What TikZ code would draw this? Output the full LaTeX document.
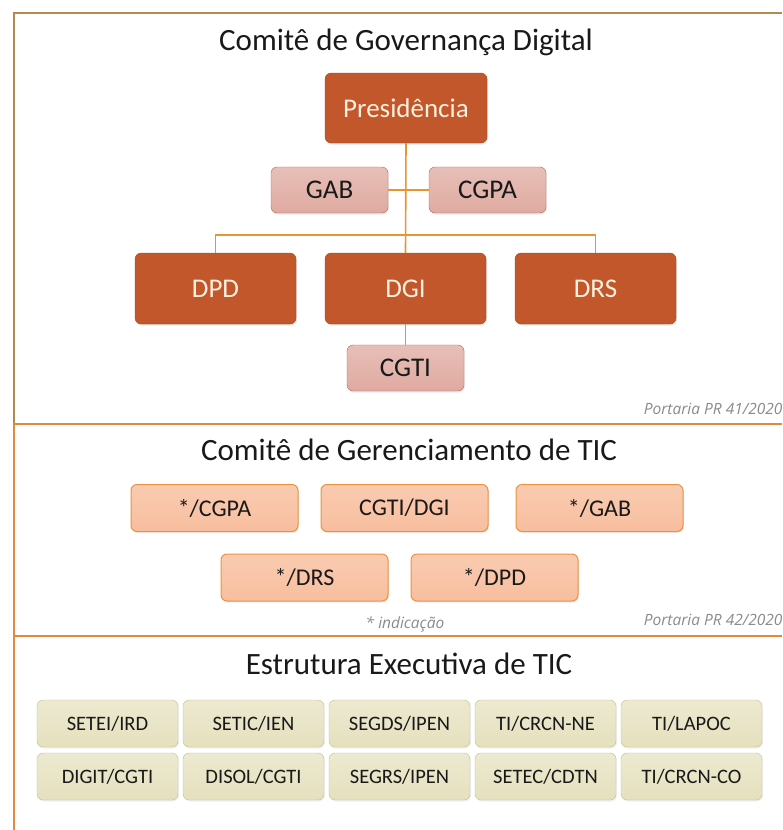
\documentclass[tikz,border=0pt]{standalone}
\usepackage{fontspec}
\setmainfont{Carlito}
\newfontfamily\notefont{Open Sans}
\usepackage{tikz}
\usetikzlibrary{positioning,shapes,shadows}

\definecolor{darkbox}{HTML}{C1572B}
\definecolor{darkline}{HTML}{A8491F}
\definecolor{pinkbox}{HTML}{DFAAA0}
\definecolor{pinkline}{HTML}{B36656}
\definecolor{peachbox}{HTML}{F8BE9E}
\definecolor{peachline}{HTML}{E8943E}
\definecolor{beigebox}{HTML}{E5E0BD}
\definecolor{beigeline}{HTML}{C3BD92}
\definecolor{linkline}{HTML}{E8952F}
\definecolor{framegold}{HTML}{B58A4C}
\definecolor{frameorange}{HTML}{E2893C}
\definecolor{notegray}{HTML}{8A8A8A}

\begin{document}
\begin{tikzpicture}[x=1pt,y=-1pt]
	\tikzstyle{item_dark}
	  =[draw=darkline, fill=darkbox, rectangle, rounded corners=6pt,
	  minimum width=161pt, minimum height=71pt, outer sep=0pt,
	  drop shadow={opacity=0.2, shadow xshift=1pt, shadow yshift=-1.5pt},
	  text=white!88!orange, font=\fontsize{27}{30}\selectfont]
	\tikzstyle{item_pink}
	  =[draw=pinkline, top color=pinkbox!75!white, bottom color=pinkbox,
	  rectangle, rounded corners=6pt, minimum width=117pt,
	  minimum height=46pt, outer sep=0pt, text=black!90,
	  drop shadow={opacity=0.15, shadow xshift=1pt, shadow yshift=-1.5pt},
	  font=\fontsize{27}{30}\selectfont]
	\tikzstyle{item_peach}
	  =[draw=peachline, line width=1pt, top color=peachbox!80!white,
	  bottom color=peachbox, rectangle, rounded corners=6pt,
	  minimum width=167pt, minimum height=47pt, outer sep=0pt,
	  drop shadow={opacity=0.15, shadow xshift=1pt, shadow yshift=-1.5pt},
	  text=black!90, font=\fontsize{24}{27}\selectfont]
	\tikzstyle{item_exec}
	  =[draw=beigeline, top color=beigebox!70!white, bottom color=beigebox,
	  rectangle, rounded corners=6pt, minimum width=141pt,
	  minimum height=47pt, outer sep=0pt, text=black!90,
	  drop shadow={opacity=0.12, shadow xshift=1pt, shadow yshift=-1.5pt},
	  font=\fontsize{20.5}{24}\selectfont]
	\tikzstyle{title}
	  =[text=black!90, font=\fontsize{31}{34}\selectfont]
	\tikzstyle{note}
	  =[text=notegray, font=\notefont\itshape\fontsize{15.5}{18}\selectfont]
	\tikzstyle{link}
	  =[draw=linkline, line width=1.6pt]

	\useasboundingbox (0,0) rectangle (782,830);

	% frame
	\draw[framegold, line width=1.6pt] (14,424) -- (14,13) -- (782,13);
	\draw[frameorange, line width=1.6pt] (14,424) -- (14,830);
	\draw[frameorange, line width=1.6pt] (14,424) -- (782,424);
	\draw[frameorange, line width=1.6pt] (14,636) -- (782,636);

	% Comite de Governanca Digital
	\node[title] (T1) at (406,42) {Comitê de Governança Digital};
	\node[item_dark, minimum width=162pt, minimum height=70pt] (PRES)
	  at (406,108) {Presidência};
	\node[item_dark] (DGI) at (405.5,288.5) {DGI};
	\node[item_dark] (DPD)
	  [left=29pt of DGI] {DPD};
	\node[item_dark] (DRS)
	  [right=29pt of DGI] {DRS};
	\node[item_pink] (GAB) at (329.5,190) {GAB};
	\node[item_pink] (CGPA)
	  [right=41pt of GAB] {CGPA};
	\node[item_pink] (CGTI)
	  [below=21pt of DGI] {CGTI};

	\draw[link] (PRES.south) -- (DGI.north);
	\draw[link] (GAB.east) -- (CGPA.west);
	\draw[link] (DPD.north) -- ++(0,-18) -| (DRS.north);
	\draw[link] (DGI.south) -- (CGTI.north);

	\node[note, anchor=east] (P41) at (786,409) {Portaria PR 41/2020};

	% Comite de Gerenciamento de TIC
	\node[title] (T2) at (409,450) {Comitê de Gerenciamento de TIC};
	\node[item_peach] (M1) at (214.5,508) {*/CGPA};
	\node[item_peach] (M2)
	  [right=23pt of M1] {CGTI/DGI};
	\node[item_peach] (M3)
	  [right=28pt of M2] {*/GAB};
	\node[item_peach] (M4) at (304.5,577.5) {*/DRS};
	\node[item_peach] (M5)
	  [right=23pt of M4] {*/DPD};

	\node[note] (IND) at (405,624) {* indicação};
	\node[note, anchor=east] (P42) at (786,620) {Portaria PR 42/2020};

	% Estrutura Executiva de TIC
	\node[title] (T3) at (409,664) {Estrutura Executiva de TIC};
	\node[item_exec] (A1) at (107.5,723.5) {SETEI/IRD};
	\node[item_exec] (B1)
	  [right=5pt of A1] {SETIC/IEN};
	\node[item_exec] (C1)
	  [right=5pt of B1] {SEGDS/IPEN};
	\node[item_exec] (D1)
	  [right=5pt of C1] {TI/CRCN-NE};
	\node[item_exec] (E1)
	  [right=5pt of D1] {TI/LAPOC};
	\node[item_exec] (A2)
	  [below=6pt of A1] {DIGIT/CGTI};
	\node[item_exec] (B2)
	  [below=6pt of B1] {DISOL/CGTI};
	\node[item_exec] (C2)
	  [below=6pt of C1] {SEGRS/IPEN};
	\node[item_exec] (D2)
	  [below=6pt of D1] {SETEC/CDTN};
	\node[item_exec] (E2)
	  [below=6pt of E1] {TI/CRCN-CO};
\end{tikzpicture}
\end{document}
